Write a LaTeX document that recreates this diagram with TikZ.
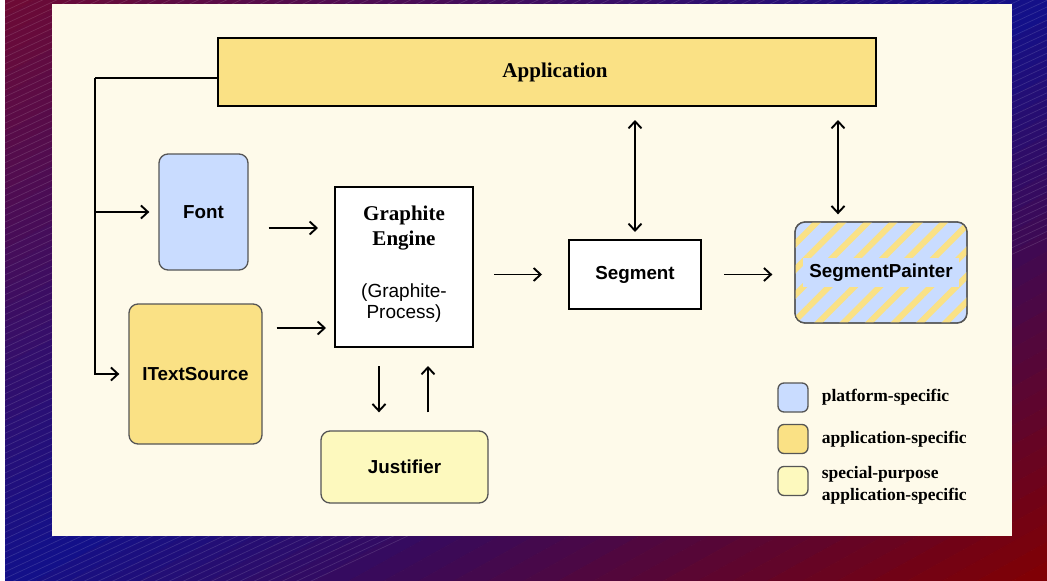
\documentclass[tikz,border=0pt]{standalone}
\usepackage{fontspec}
\setmainfont{Liberation Serif}
\setsansfont{Liberation Sans}
\usepackage{tikz}
\usetikzlibrary{arrows.meta, positioning, patterns.meta, calc}
\definecolor{cream}{HTML}{FEFAEA}
\definecolor{platblue}{HTML}{C9DCFF}
\definecolor{appyellow}{HTML}{FAE185}
\definecolor{specyellow}{HTML}{FDF9BE}
\definecolor{bgmaroon}{HTML}{6E0A34}
\definecolor{bgnavy}{HTML}{12108A}
\definecolor{bgred}{HTML}{820002}
\definecolor{edgegray}{HTML}{555555}
\newcommand{\serifbold}{\rmfamily\bfseries\fontsize{21}{25}\selectfont}
\setlength{\fboxsep}{6pt}

\begin{document}
\begin{tikzpicture}[x=1pt, y=-1pt]
\tikzstyle{module}=[rectangle, draw=edgegray, line width=1.3pt, rounded corners=9pt,
  font=\sffamily\bfseries\fontsize{18.8}{22}\selectfont, inner sep=0pt]
\tikzstyle{core}=[rectangle, draw=black, line width=2pt, fill=white, inner sep=0pt,
  font=\sffamily\bfseries\fontsize{18.8}{22}\selectfont]
\tikzstyle{legend}=[rectangle, draw=edgegray, line width=1.3pt, rounded corners=6pt,
  minimum width=30pt, minimum height=29pt]
\tikzstyle{legtext}=[anchor=west, inner sep=0pt, align=left,
  font=\rmfamily\bfseries\fontsize{17.5}{22}\selectfont]
\tikzstyle{arrow}=[-{Straight Barb[length=7pt,width=13pt]}, line width=1.9pt]
\tikzstyle{dblarrow}=[{Straight Barb[length=7pt,width=13pt]}-{Straight Barb[length=7pt,width=13pt]}, line width=1.9pt]

\useasboundingbox (0,0) rectangle (1047,581);
% background: diagonal gradient in bands, then faint stripes
\begin{scope}
\clip (5,0) rectangle (1047,581);
\foreach \i in {0,...,59} {
  \pgfmathsetmacro\ta{\i/30}
  \pgfmathsetmacro\tb{(\i+1)/30}
  \ifnum\i<30
    \pgfmathtruncatemacro\p{100*(\i+0.5)/30}
    \colorlet{band}{bgnavy!\p!bgmaroon}
  \else
    \pgfmathtruncatemacro\p{100*(\i-29.5)/30}
    \colorlet{band}{bgred!\p!bgnavy}
  \fi
  \fill[band, draw=band, line width=0.6pt]
    ({(\ta+1)*1047},-581) -- ({(\tb+1)*1047},-581) -- (-1047,{(\tb+1)*581}) -- (-1047,{(\ta+1)*581}) -- cycle;
}
\foreach \k in {-60,...,110}
  \draw[white, line width=0.7pt, draw opacity=0.13] (0,{\k*6.6}) -- (1047,{\k*6.6-488});
\end{scope}
\fill[cream] (52,4) rectangle (1012,536);

\node (app) [core, fill=appyellow, minimum width=658pt, minimum height=68pt, font=\serifbold]
  at (547,72) {\hspace*{16pt}Application};
\node (font) [module, fill=platblue, minimum width=89pt, minimum height=116pt]
  at (203.5,212) {Font};
\node (source) [module, fill=appyellow, minimum width=133pt, minimum height=140pt]
  at (195.5,374) {ITextSource};
\node (engine) [core, minimum width=138pt, minimum height=160pt, align=center, text depth=9pt,
  font=\sffamily\fontsize{19}{21}\selectfont] at (404,267)
  {{\serifbold Graphite}\\[4pt]{\serifbold Engine}\\[31pt](Graphite-\\Process)};
\node (just) [module, fill=specyellow, minimum width=167pt, minimum height=72pt]
  at (404.5,467) {Justifier};
\node (segment) [core, minimum width=132pt, minimum height=69pt]
  at (635,274.5) {Segment};
\node (painter) [module, fill=platblue, rounded corners=10pt,
  postaction={pattern={Lines[angle=45,distance=18pt,line width=6pt]}, pattern color=appyellow},
  postaction={draw=edgegray}, minimum width=172pt, minimum height=101pt]
  at (881,272.5) {\colorbox{platblue}{SegmentPainter}};

% legend
\node (legplat) [legend, fill=platblue] at (793,397.5) {};
\node (legapp) [legend, fill=appyellow] at (793,439) {};
\node (legspec) [legend, fill=specyellow] at (793,481) {};
\node (txtplat) [legtext, right=13pt of legplat] {platform-specific};
\node (txtapp) [legtext, right=13pt of legapp] {application-specific};
\node (txtspec) [legtext, right=13pt of legspec, yshift=-4pt]
  {special-purpose\\application-specific};

% connectors
\coordinate (bus) at (95,78);
\draw[line width=1.9pt] ([yshift=-6pt]app.west) -- (bus);
\draw[arrow, shorten >=9pt] (bus) |- (source.west);
\draw[arrow, shorten >=9pt] (bus |- font.west) -- (font.west);
\draw[arrow, shorten <=20pt, shorten >=16pt]
  ([yshift=-16pt]font.east) -- ([yshift=-16pt]font.east -| engine.west);
\draw[arrow, shorten <=14pt, shorten >=8pt]
  ([yshift=46pt]source.east) -- ([yshift=46pt]source.east -| engine.west);
\draw[arrow, shorten <=20pt, shorten >=26pt] (segment.west -| engine.east) -- (segment.west);
\draw[arrow, shorten <=22pt, shorten >=22pt] (segment.east) -- (segment.east -| painter.west);
\draw[arrow, shorten <=18pt, shorten >=18pt]
  ([xshift=-25pt]engine.south) -- ([xshift=-25pt]engine.south |- just.north);
\draw[arrow, shorten <=18pt, shorten >=18pt]
  ([xshift=24pt]engine.south |- just.north) -- ([xshift=24pt]engine.south);
\draw[dblarrow, shorten <=13pt, shorten >=7pt] (segment.north |- app.south) -- (segment.north);
\draw[dblarrow, shorten <=13pt, shorten >=7pt]
  ([xshift=-43pt]painter.north |- app.south) -- ([xshift=-43pt]painter.north);
\end{tikzpicture}
\end{document}
